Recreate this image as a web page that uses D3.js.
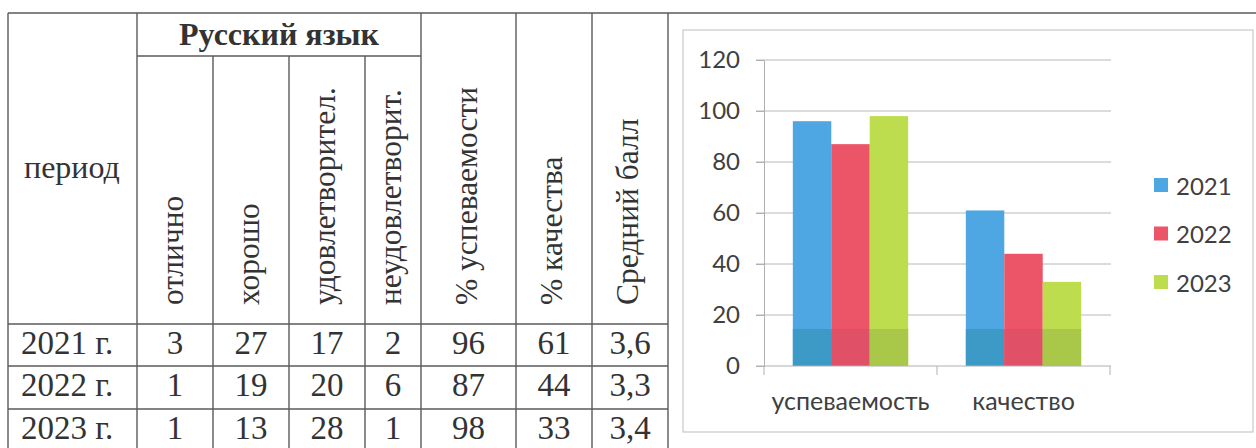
<!DOCTYPE html>
<html><head><meta charset="utf-8">
<script src="https://cdn.jsdelivr.net/npm/d3@7"></script>
<style>html,body{margin:0;padding:0;background:#fff;}svg{display:block;}</style>
</head><body>
<svg id="c" width="1256" height="448"></svg>
<script>
// ---- table data ----
const periods = ["2021 г.", "2022 г.", "2023 г."];
const colOtl = [3, 1, 1];
const colHor = [27, 19, 13];
const colUdov = [17, 20, 28];
const colNeud = [2, 6, 1];
const colUsp = [96, 87, 98];
const colKach = [61, 44, 33];
const colAvg = ["3,6", "3,3", "3,4"];
const subjectTitle = "Русский язык";
const periodHeader = "период";
const rotHeaders = ["отлично", "хорошо", "удовлетворител.", "неудовлетворит.", "% успеваемости", "% качества", "Средний балл"];
// ---- chart data ----
const categories = ["успеваемость", "качество"];
const years = ["2021", "2022", "2023"];
const s2021 = [96, 61];
const s2022 = [87, 44];
const s2023 = [98, 33];
const yTicks = [0, 20, 40, 60, 80, 100, 120];

const svg = d3.select("#c");
const lineCol = "#5a5a5a";
const textCol = "#333";
const serif = "'Liberation Serif', 'Times New Roman', serif";

// ---- table layout ----
const colX = [8, 137, 213, 289, 365, 421, 516, 592, 668];
const rowY = [13, 56, 324, 366, 409, 452];
const T = svg.append("g");
T.append("line").attr("x1", colX[0]).attr("x2", 1256).attr("y1", rowY[0]).attr("y2", rowY[0]).attr("stroke", lineCol).attr("stroke-width", 1.4);
colX.forEach((x, i) => {
  const y1 = (i >= 2 && i <= 4) ? rowY[1] : rowY[0];
  T.append("line").attr("x1", x).attr("x2", x).attr("y1", y1).attr("y2", 448).attr("stroke", lineCol).attr("stroke-width", 1.4);
});
T.append("line").attr("x1", colX[1]).attr("x2", colX[5]).attr("y1", rowY[1]).attr("y2", rowY[1]).attr("stroke", lineCol).attr("stroke-width", 1.4);
[rowY[2], rowY[3], rowY[4]].forEach(y => {
  T.append("line").attr("x1", colX[0]).attr("x2", colX[8]).attr("y1", y).attr("y2", y).attr("stroke", lineCol).attr("stroke-width", 1.4);
});
T.append("text").text(subjectTitle).attr("x", (colX[1] + colX[5]) / 2).attr("y", 45)
  .attr("text-anchor", "middle").attr("font-family", serif).attr("font-weight", "bold").attr("font-size", 32).attr("fill", "#333");
T.append("text").text(periodHeader).attr("x", 24).attr("y", 178)
  .attr("font-family", serif).attr("font-size", 32).attr("fill", textCol);
rotHeaders.forEach((h, i) => {
  const cx = (colX[i + 1] + colX[i + 2]) / 2 + 8;
  T.append("text").text(h).attr("transform", `translate(${cx},305) rotate(-90)`)
    .attr("font-family", serif).attr("font-size", 31.5).attr("fill", textCol);
});
const cols = [colOtl, colHor, colUdov, colNeud, colUsp, colKach, colAvg];
periods.forEach((p, r) => {
  const base = rowY[r + 2] + 30;
  T.append("text").text(p).attr("x", 21).attr("y", base).attr("font-family", serif).attr("font-size", 33).attr("fill", textCol);
  cols.forEach((c, i) => {
    T.append("text").text(String(c[r])).attr("x", (colX[i + 1] + colX[i + 2]) / 2).attr("y", base)
      .attr("text-anchor", "middle").attr("font-family", serif).attr("font-size", 33).attr("fill", textCol);
  });
});

// ---- chart ----
const C = svg.append("g");
C.append("rect").attr("x", 683).attr("y", 30).attr("width", 570).attr("height", 402)
  .attr("fill", "#fff").attr("stroke", "#c8c8c8").attr("stroke-width", 1.2);
const sans = "Lato, 'Open Sans', sans-serif";
const y = d3.scaleLinear().domain([0, 120]).range([366, 60]);
const x0 = d3.scaleBand().domain(categories).range([764, 1110]).paddingInner(0).paddingOuter(0);
const x1 = d3.scaleBand().domain(years).range([0, x0.bandwidth()]).paddingInner(0).paddingOuter(0.75);
const colors = { "2021": "#4ea6e3", "2022": "#ec5468", "2023": "#bddc4e" };
const lowColors = { "2021": "#3d9ac6", "2022": "#e05066", "2023": "#a9c749" };
const seriesData = { "2021": s2021, "2022": s2022, "2023": s2023 };

C.append("g").selectAll("line").data(yTicks.filter(t => t > 0)).join("line")
  .attr("x1", 756).attr("x2", 1111).attr("y1", d => y(d)).attr("y2", d => y(d))
  .attr("stroke", "#b8b8b8").attr("stroke-width", 1);
const yAx = C.append("g").attr("transform", "translate(764,0)")
  .call(d3.axisLeft(y).tickValues(yTicks).tickSize(8).tickPadding(16));
yAx.select(".domain").attr("stroke", "#b0b0b0");
yAx.selectAll(".tick line").attr("stroke", "#b0b0b0");
yAx.selectAll("text").attr("font-family", sans).attr("font-size", 24).attr("fill", "#404040");

years.forEach(yr => {
  const g = C.append("g");
  g.selectAll("rect.b").data(categories).join("rect").attr("class", "b")
    .attr("x", c => x0(c) + x1(yr)).attr("width", x1.bandwidth())
    .attr("y", (c, i) => y(seriesData[yr][i])).attr("height", (c, i) => y(0) - y(seriesData[yr][i]))
    .attr("fill", colors[yr]);
  g.selectAll("rect.l").data(categories).join("rect").attr("class", "l")
    .attr("x", c => x0(c) + x1(yr)).attr("width", x1.bandwidth())
    .attr("y", y(14.5)).attr("height", y(0) - y(14.5))
    .attr("fill", lowColors[yr]);
});

const xAx = C.append("g").attr("transform", "translate(0,366)")
  .call(d3.axisBottom(x0).tickSize(0).tickPadding(26));
xAx.select(".domain").remove();
C.append("line").attr("x1", 756).attr("x2", 1111).attr("y1", 366).attr("y2", 366).attr("stroke", "#b0b0b0");
const bounds = [x0.range()[0]].concat(categories.map(c => x0(c) + x0.bandwidth()));
C.selectAll("line.xt").data(bounds).join("line").attr("class", "xt")
  .attr("x1", d => d).attr("x2", d => d).attr("y1", 366).attr("y2", 375).attr("stroke", "#b0b0b0");
xAx.selectAll("text").attr("font-family", sans).attr("font-size", 25).attr("fill", "#404040");

const leg = C.append("g");
years.forEach((yr, i) => {
  const cy = 185 + i * 48.5;
  leg.append("rect").attr("x", 1154).attr("y", cy - 7).attr("width", 14).attr("height", 14).attr("fill", colors[yr]);
  leg.append("text").text(yr).attr("x", 1176).attr("y", cy).attr("dominant-baseline", "central")
    .attr("font-family", sans).attr("font-size", 24).attr("fill", "#404040");
});
</script>
</body></html>
